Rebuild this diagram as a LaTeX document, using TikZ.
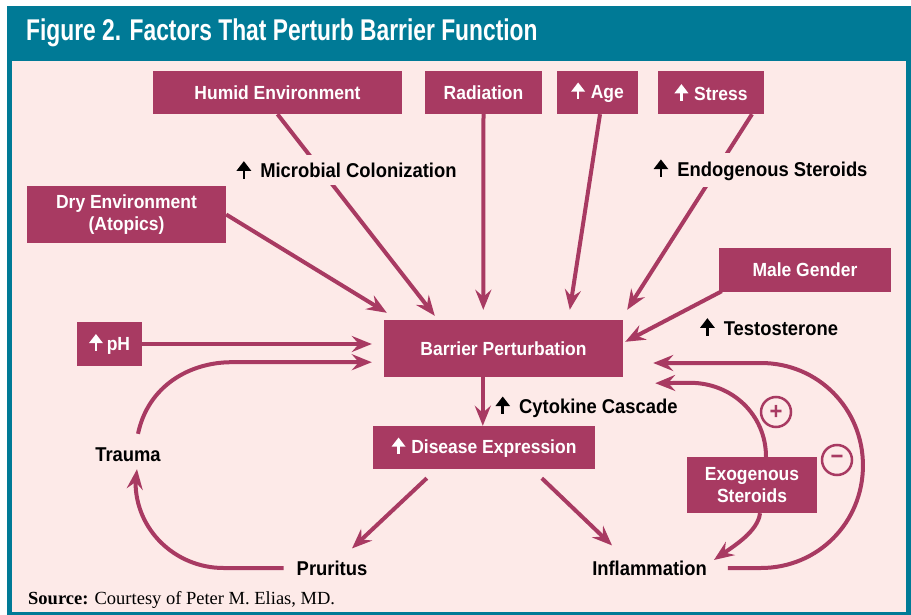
\documentclass[tikz,border=0pt]{standalone}
\usepackage{fontspec}
\setmainfont{Liberation Serif}
\newfontfamily\condfont{Liberation Sans}[FakeStretch=0.92]
\newfontfamily\titlefont{Liberation Sans}[FakeStretch=0.76]
\usepackage{tikz}
\usetikzlibrary{arrows.meta,positioning,calc}
\definecolor{framecol}{RGB}{0,122,150}
\definecolor{paper}{RGB}{253,234,232}
\definecolor{berry}{RGB}{168,58,98}
\newcommand{\uparr}{\tikz[baseline=0pt,x=1em,y=1em]{\fill (-0.37,0.36)--(0,0.84)--(0.37,0.36)--cycle; \fill (-0.065,-0.04) rectangle (0.065,0.45);}}

\begin{document}
\begin{tikzpicture}[x=1pt, y=-1pt, box/.style={rectangle, fill=berry, text=white, font=\condfont\bfseries\fontsize{19}{22}\selectfont, inner sep=0pt, align=center, minimum height=43}, lab/.style={font=\condfont\bfseries\fontsize{20}{22}\selectfont, inner sep=0pt, align=center}, conn/.style={draw=berry, line width=4pt, -{Stealth[length=20pt,width=16pt,inset=7pt]}}]
\useasboundingbox (0,0) rectangle (911,615);
\fill[framecol] (7,6) rectangle (911,615);
\fill[paper] (12,61) rectangle (906,612);
\node[anchor=west, text=white, inner sep=0pt, font=\titlefont\bfseries\fontsize{30}{32}\selectfont] (title) at (26,33) {Figure 2. Factors That Perturb Barrier Function};

\node[box, minimum width=249] (humid) at (277.5,92.5) {Humid Environment};
\node[box, minimum width=117] (radiation) at (483.5,92.5) {Radiation};
\node[box, minimum width=81] (age) at (597.5,92.5) {\uparr\hspace{0.3em}Age};
\node[box, minimum width=106] (stress) at (711,92.5) {\uparr\hspace{0.3em}Stress};
\node[box, minimum width=199, minimum height=57] (dry) at (126.5,214.5) {Dry Environment\\(Atopics)};
\node[box, minimum width=172, minimum height=44] (male) at (805,270) {Male Gender};
\node[box, minimum width=65, minimum height=44] (ph) at (109.5,344) {\uparr\hspace{0.2em}pH};
\node[box, minimum width=239, minimum height=57] (barrier) at (503.5,348.5) {Barrier Perturbation};
\node[box, minimum width=222] (disease) at (484,447.5) {\uparr\hspace{0.3em}Disease Expression};
\node[box, minimum width=130, minimum height=56] (exo) at (752,485) {Exogenous\\Steroids};

\node[lab] (trauma) at (128,455) {Trauma};
\node[lab] (pruritus) at (332,568) {Pruritus};
\node[lab] (inflam) at (649.5,568) {Inflammation};

\draw[conn] (humid.south) -- ($(barrier.north west)+(51,-4)$);
\draw[conn] (dry.east) -- ($(barrier.north west)+(3,-7)$);
\draw[conn] (radiation.south) -- ($(barrier.north west)+(99.5,-10)$);
\draw[conn] ($(age.south)+(2.5,0)$) -- ($(barrier.north west)+(186,-10)$);
\draw[conn] ($(stress.south)+(41,0)$) -- ($(barrier.north east)+(4,-10)$);
\draw[conn] ($(male.south west)+(3,-1)$) -- ($(barrier.north east)+(2,22)$);
\draw[conn] (ph.east) -- ($(ph.east -| barrier.west)+(-12,0)$);
\draw[conn] ($(trauma.north)+(10,-14)$) .. controls +(10,-48) and +(-42,0) .. ($(barrier.south west)+(-152,-15)$) -- ($(barrier.south west)+(-12,-15)$);
\draw[conn] ($(pruritus.west)+(-13,0)$) -- ++(-60,0) .. controls +(-48,0) and +(0,48) .. ++(-88,-86) -- ($(trauma.south)+(9,7)$);
\draw[conn] ($(barrier.south west)+(99,0)$) -- ($(disease.north west)+(110,0)$);
\draw[conn] ($(disease.south west)+(54,9)$) -- ($(pruritus.north)+(20,-12)$);
\draw[conn] ($(disease.south west)+(169,9)$) -- ($(inflam.north west)+(20,-15)$);
\draw[conn] ($(exo.north)+(14,0)$) .. controls +(0,-42) and +(42,0) .. ++(-76,-74) -- ($(barrier.south east)+(32,6)$);
\draw[conn] ($(exo.south)+(8,0)$) .. controls +(-2,18) and +(20,-14) .. ($(inflam.east)+(7,-8)$);
\draw[conn] ($(inflam.east)+(21,0)$) -- ++(33,0) .. controls +(57,0) and +(0,57) .. ++(102,-102.5) .. controls +(0,-57) and +(57,0) .. ++(-102,-102.5) -- ($(barrier.east)+(30,14.5)$);

\node[circle, draw=berry, line width=2.5pt, minimum size=30, inner sep=0pt, text=berry, font=\condfont\bfseries\fontsize{24}{24}\selectfont] (plus) at (776,412) {+};
\node[circle, draw=berry, line width=2.5pt, minimum size=30, inner sep=0pt, text=berry, font=\condfont\bfseries\fontsize{24}{24}\selectfont] (minus) at (837,460) {\char"2212};

\node[lab, fill=paper, inner sep=6pt] (microbial) at (346.5,170) {\uparr\hspace{0.45em}Microbial Colonization};
\node[lab, fill=paper, inner sep=6pt] (endogenous) at (760.5,170) {\uparr\hspace{0.45em}Endogenous Steroids};
\node[lab] (testosterone) at (769,327) {\uparr\hspace{0.45em}Testosterone};
\node[lab] (cytokine) at (586.5,407) {\uparr\hspace{0.45em}Cytokine Cascade};

\node[anchor=west, inner sep=0pt, font=\fontsize{18.5}{20}\selectfont] (source) at (28,600) {\textbf{Source:} Courtesy of Peter M. Elias, MD.};
\end{tikzpicture}
\end{document}
